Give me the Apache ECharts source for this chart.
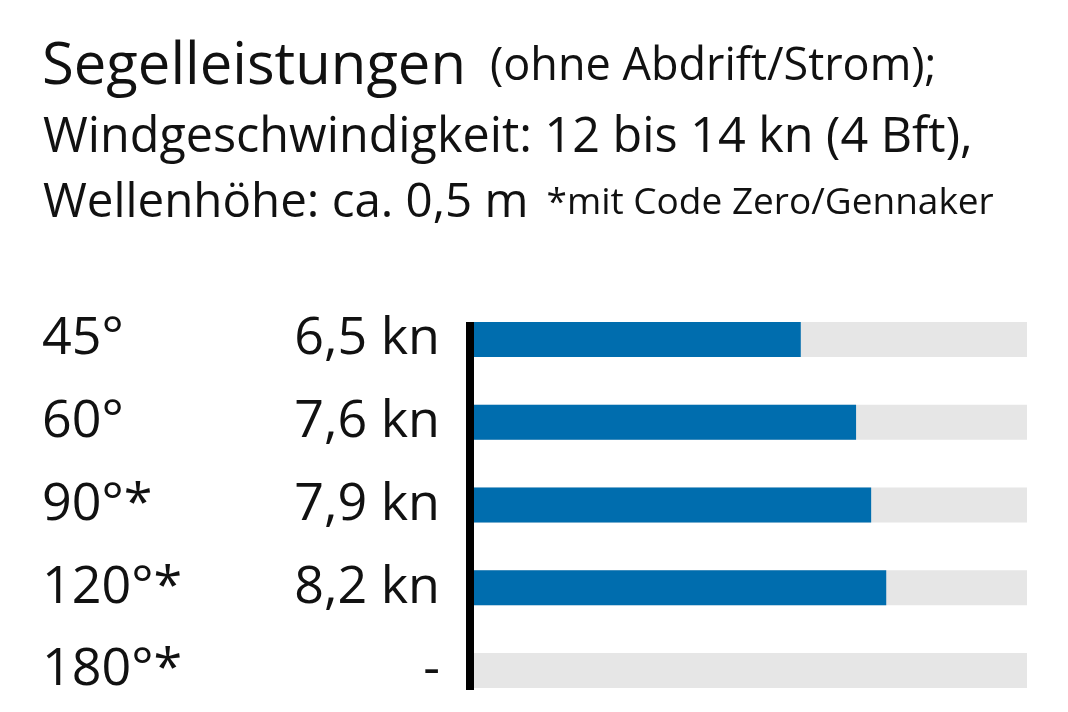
<!DOCTYPE html>
<html>
<head>
<meta charset="utf-8">
<script src="https://cdn.jsdelivr.net/npm/echarts@6/dist/echarts.min.js"></script>
<style>
	html, body { margin:0; padding:0; background:#fff; }
	#chart { width:1068px; height:712px; }
</style>
</head>
<body>
<div id="chart"></div>
<script>
var angles = ['45°', '60°', '90°*', '120°*', '180°*'];
var speeds = [6.5, 7.6, 7.9, 8.2, null];
var scaleMax = 11;

var fontFam = '"Open Sans", "Noto Sans", sans-serif';
var barW = 35;

var speedText = function(v){
	if( v === null ){
		return '-';
	}
	return v.toFixed(1).replace('.', ',') + ' kn';
};

var bgData = [];
for( var i = 0; i < angles.length; i++ ){
	bgData.push( scaleMax );
}

var txt = function(size, padLeft){
	return {
		fontSize:size, fontWeight:'normal', color:'#111', fontFamily:fontFam,
		padding:[0, 0, 0, padLeft || 0]
	};
};

var chart = echarts.init( document.getElementById('chart') );
chart.setOption({
	animation:false,
	textStyle:{ fontFamily:fontFam },
	title:[
		{
			left:37, top:33,
			text:'{a|Segelleistungen}{b|(ohne Abdrift/Strom);}',
			textStyle:{
				fontWeight:'normal',
				rich:{ a:txt(58), b:txt(45, 24) }
			}
		},
		{
			left:38, top:109,
			text:'Windgeschwindigkeit: 12 bis 14 kn (4 Bft),',
			textStyle:txt(48.5)
		},
		{
			left:38, top:174,
			text:'{a|Wellenhöhe: ca. 0,5 m}{b|*mit Code Zero/Gennaker}',
			textStyle:{
				fontWeight:'normal',
				rich:{ a:txt(47.5), b:txt(37, 18) }
			}
		}
	],
	grid:{ left:474, right:41, top:298, height:415 },
	xAxis:{
		type:'value', min:0, max:scaleMax,
		show:false
	},
	yAxis:{
		type:'category',
		data:angles,
		inverse:true,
		axisTick:{ show:false },
		axisLine:{ show:false },
		axisLabel:{
			margin:432,
			align:'left',
			formatter:function(val, idx){
				return '{c|' + val + '}{v|' + speedText( speeds[idx] ) + '}';
			},
			rich:{
				c:{ fontSize:52, color:'#111', width:230, align:'left', fontFamily:fontFam },
				v:{ fontSize:52, color:'#111', width:168, align:'right', fontFamily:fontFam }
			}
		}
	},
	series:[
		{
			type:'bar',
			data:bgData,
			barWidth:barW,
			barGap:'-100%',
			itemStyle:{ color:'#e6e6e6' },
			silent:true,
			z:1
		},
		{
			type:'bar',
			data:speeds,
			barWidth:barW,
			itemStyle:{ color:'#006dae' },
			z:2
		}
	]
});

// black baseline from first bar top to last bar bottom
var x0 = chart.convertToPixel( {xAxisIndex:0}, 0 );
var yTop = chart.convertToPixel( {yAxisIndex:0}, angles[0] ) - barW / 2;
var yBot = chart.convertToPixel( {yAxisIndex:0}, angles[angles.length - 1] ) + barW / 2 + 2;
chart.setOption({
	graphic:[{
		type:'rect',
		shape:{ x:x0 - 8, y:yTop, width:8, height:yBot - yTop },
		style:{ fill:'#000' },
		z:10
	}]
});
</script>
</body>
</html>
